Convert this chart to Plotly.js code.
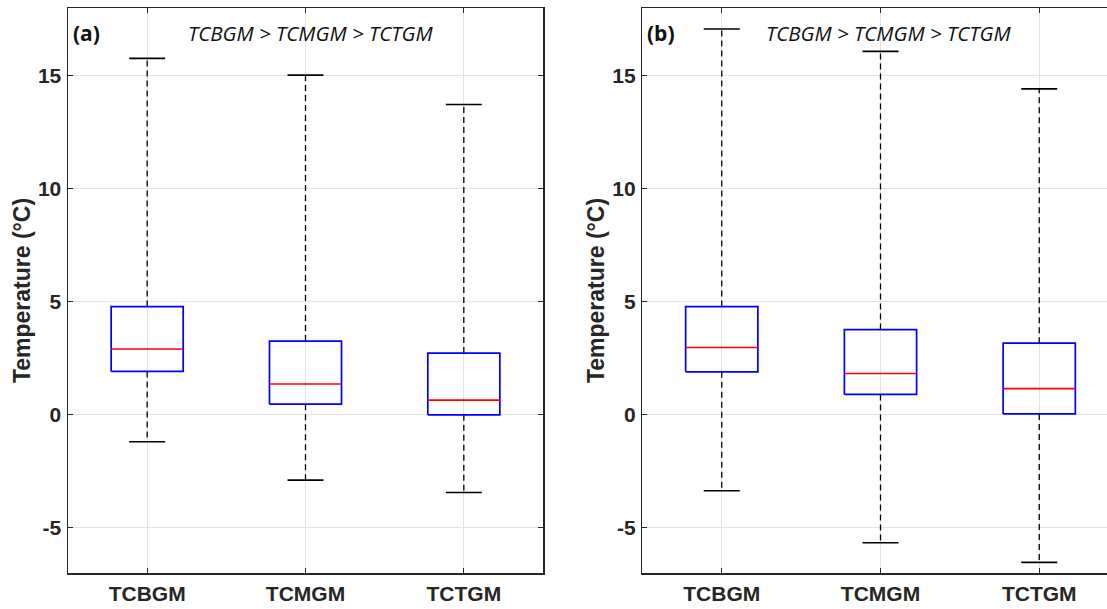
<!DOCTYPE html>
<html>
<head>
<meta charset="utf-8">
<script src="https://cdn.plot.ly/plotly-3.0.1.min.js"></script>
<style>html,body{margin:0;padding:0;background:#fff;}#chart{width:1107px;height:609px;}</style>
</head>
<body>
<div id="chart"></div>
<script>
const categories = ['TCBGM', 'TCMGM', 'TCTGM'];
const tickValues = [-5, 0, 5, 10, 15];

// Panel (a)
const aLower  = [-1.19, -2.89, -3.44];
const aQ1     = [1.92, 0.47, 0.00];
const aMedian = [2.91, 1.36, 0.65];
const aQ3     = [4.79, 3.26, 2.73];
const aUpper  = [15.77, 15.03, 13.73];

// Panel (b)
const bLower  = [-3.36, -5.66, -6.53];
const bQ1     = [1.90, 0.90, 0.04];
const bMedian = [2.98, 1.83, 1.16];
const bQ3     = [4.79, 3.77, 3.17];
const bUpper  = [17.07, 16.08, 14.42];

const panelLabels = ['(a)', '(b)'];
const rankText = 'TCBGM > TCMGM > TCTGM';
const yTitle = 'Temperature (°C)';

const BOXW = 0.455, CAPW = 0.227;
const idx = categories.map((c, i) => i);

function panelTraces(lower, q1, med, q3, upper, xa, ya) {
  const traces = [];
  // whiskers
  const wx = [], wy = [];
  idx.forEach(i => { wx.push(i, i, null, i, i, null); wy.push(q3[i], upper[i], null, q1[i], lower[i], null); });
  traces.push({type: 'scatter', mode: 'lines', x: wx, y: wy, xaxis: xa, yaxis: ya,
    line: {color: '#000', width: 1.3, dash: '6px,4px'}, hoverinfo: 'skip', showlegend: false});
  // boxes (outline from q1 to q3)
  const bx = [], by = [];
  idx.forEach(i => {
    const l = i - BOXW / 2, r = i + BOXW / 2;
    bx.push(l, r, r, l, l, null); by.push(q1[i], q1[i], q3[i], q3[i], q1[i], null);
  });
  traces.push({type: 'scatter', mode: 'lines', x: bx, y: by, xaxis: xa, yaxis: ya,
    line: {color: '#0000ff', width: 1.7}, hoverinfo: 'skip', showlegend: false});
  // medians
  const mx = [], my = [];
  idx.forEach(i => { mx.push(i - BOXW / 2, i + BOXW / 2, null); my.push(med[i], med[i], null); });
  traces.push({type: 'scatter', mode: 'lines', x: mx, y: my, xaxis: xa, yaxis: ya,
    line: {color: '#ff0000', width: 1.6}, hoverinfo: 'skip', showlegend: false});
  // caps
  const cx = [], cy = [];
  idx.forEach(i => {
    cx.push(i - CAPW / 2, i + CAPW / 2, null, i - CAPW / 2, i + CAPW / 2, null);
    cy.push(upper[i], upper[i], null, lower[i], lower[i], null);
  });
  traces.push({type: 'scatter', mode: 'lines', x: cx, y: cy, xaxis: xa, yaxis: ya,
    line: {color: '#000', width: 1.6}, hoverinfo: 'skip', showlegend: false});
  return traces;
}

const data = [].concat(
  panelTraces(aLower, aQ1, aMedian, aQ3, aUpper, 'x', 'y'),
  panelTraces(bLower, bQ1, bMedian, bQ3, bUpper, 'x2', 'y2')
);

const axisColor = '#262626';
const gridColor = '#e3e3e3';
const tickFont = {family: 'Liberation Sans, Arial, sans-serif', size: 21, color: axisColor, weight: 'bold'};

function xAxis(domain, rangeMax, anchor) {
  return {domain: domain, range: [-0.5, rangeMax], anchor: anchor,
    tickmode: 'array', tickvals: idx, ticktext: categories,
    showgrid: true, gridcolor: gridColor, gridwidth: 1, zeroline: false,
    showline: true, linecolor: axisColor, linewidth: 1.5, mirror: 'ticks',
    ticks: 'inside', ticklen: 5, tickcolor: axisColor, tickwidth: 1.2,
    tickfont: tickFont, ticklabelstandoff: 1, fixedrange: true};
}
function yAxis(anchor, mirror) {
  return {domain: [0, 1], range: [-7, 18], anchor: anchor,
    tickmode: 'array', tickvals: tickValues, ticktext: tickValues.map(String),
    showgrid: true, gridcolor: gridColor, gridwidth: 1, zeroline: false,
    showline: true, linecolor: axisColor, linewidth: 1.5, mirror: mirror,
    ticks: 'inside', ticklen: 5, tickcolor: axisColor, tickwidth: 1.2,
    tickfont: tickFont, ticklabelstandoff: 1,
    title: {text: yTitle, font: {family: 'Liberation Sans, Arial, sans-serif', size: 23, color: axisColor, weight: 'bold'}, standoff: 1},
    fixedrange: true};
}

const W = 1107;
const labelY = 1 - (33 - 8) / 565;
const layout = {
  width: 1107, height: 609,
  margin: {l: 0, r: 0, t: 8, b: 36, pad: 0},
  paper_bgcolor: '#fff', plot_bgcolor: '#fff',
  showlegend: false,
  xaxis: xAxis([68 / W, 543 / W], 2.5, 'y'),
  yaxis: yAxis('x', 'ticks'),
  xaxis2: xAxis([642.4 / W, 1], 2.427, 'y2'),
  yaxis2: yAxis('x2', false),
  annotations: [
    {text: panelLabels[0], xref: 'paper', yref: 'paper', x: 71 / W, y: labelY, xanchor: 'left', yanchor: 'middle', showarrow: false,
     font: {family: 'Open Sans, sans-serif', size: 21, color: '#111', weight: 'bold'}},
    {text: rankText, xref: 'paper', yref: 'paper', x: 310 / W, y: labelY, xanchor: 'center', yanchor: 'middle', showarrow: false,
     font: {family: 'Open Sans, sans-serif', size: 20.5, color: '#111', style: 'italic'}},
    {text: panelLabels[1], xref: 'paper', yref: 'paper', x: 645 / W, y: labelY, xanchor: 'left', yanchor: 'middle', showarrow: false,
     font: {family: 'Open Sans, sans-serif', size: 21, color: '#111', weight: 'bold'}},
    {text: rankText, xref: 'paper', yref: 'paper', x: 888 / W, y: labelY, xanchor: 'center', yanchor: 'middle', showarrow: false,
     font: {family: 'Open Sans, sans-serif', size: 20.5, color: '#111', style: 'italic'}}
  ]
};

Plotly.newPlot('chart', data, layout, {displayModeBar: false, staticPlot: true});
</script>
</body>
</html>
